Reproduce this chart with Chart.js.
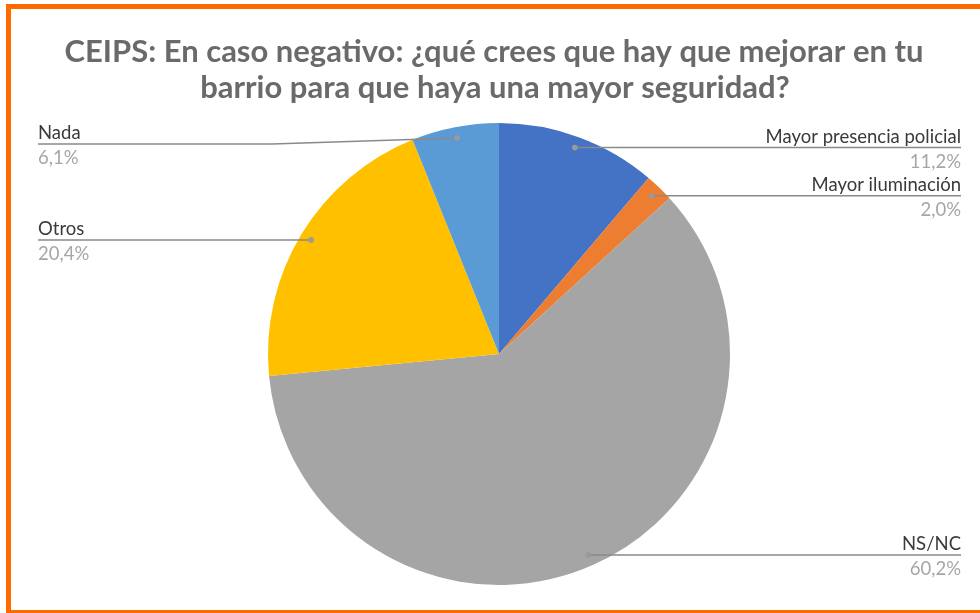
<!DOCTYPE html>
<html>
<head>
<meta charset="utf-8">
<script src="https://cdn.jsdelivr.net/npm/chart.js@4"></script>
<style>
  html, body { margin: 0; padding: 0; background: #fff; }
  #wrap { width: 980px; height: 613px; }
</style>
</head>
<body>
<div id="wrap"><canvas id="pie" width="980" height="613"></canvas></div>
<script>
// Chart data
const titleLines = ['CEIPS: En caso negativo: ¿qué crees que hay que mejorar en tu',
                    'barrio para que haya una mayor seguridad?'];
const labels = ['Mayor presencia policial', 'Mayor iluminación', 'NS/NC', 'Otros', 'Nada'];
const values = [11.2, 2.0, 60.2, 20.4, 6.1];
const colors = ['#4472C4', '#ED7D31', '#A5A5A5', '#FFC000', '#5B9BD5'];

// orange frame + white background
const framePlugin = {
  id: 'frame',
  beforeDraw(chart) {
    const ctx = chart.ctx;
    ctx.save();
    ctx.fillStyle = '#fff';
    ctx.fillRect(0, 0, chart.width, chart.height);
    ctx.fillStyle = '#FF6A00';
    ctx.fillRect(6, 4, chart.width - 6, 5);   // top
    ctx.fillRect(6, 4, 5, chart.height - 4);  // left
    ctx.fillRect(6, 610, chart.width - 6, 3); // bottom
    ctx.restore();
  }
};

// title drawn by hand so both lines sit where the original has them
const titlePlugin = {
  id: 'bigTitle',
  afterDraw(chart) {
    const ctx = chart.ctx;
    ctx.save();
    ctx.font = 'bold 31px Lato';
    ctx.fillStyle = '#6a6a6a';
    ctx.textAlign = 'center';
    ctx.textBaseline = 'alphabetic';
    ctx.fillText(titleLines[0], 494, 62);
    ctx.fillText(titleLines[1], 495, 98);
    ctx.restore();
  }
};

// labels with leader lines, like the Excel callouts
const calloutPlugin = {
  id: 'callouts',
  afterDatasetsDraw(chart) {
    const ctx = chart.ctx;
    const arcs = chart.getDatasetMeta(0).data;
    const leftX = 38, rightX = 961, minY = 144;
    ctx.save();
    arcs.forEach((arc, i) => {
      const mid = (arc.startAngle + arc.endAngle) / 2;
      const r = arc.outerRadius * 0.952;
      const dx = arc.x + Math.cos(mid) * r;
      const dy = arc.y + Math.sin(mid) * r;
      const right = Math.cos(mid) >= 0;
      const ly = Math.max(dy, minY);
      const endX = right ? rightX : leftX;

      ctx.strokeStyle = '#8a8a8a';
      ctx.lineWidth = 1.5;
      ctx.beginPath();
      ctx.moveTo(dx, dy);
      if (ly !== dy) {
        const elbowX = right ? dx + 185 : dx - 185;
        ctx.lineTo(elbowX, ly);
      }
      ctx.lineTo(endX, ly);
      ctx.stroke();

      ctx.fillStyle = '#9a9a9a';
      ctx.beginPath();
      ctx.arc(dx, dy, 2.8, 0, Math.PI * 2);
      ctx.fill();

      ctx.textAlign = right ? 'right' : 'left';
      ctx.textBaseline = 'alphabetic';
      ctx.font = '18.5px Lato';
      ctx.fillStyle = '#3a3a3a';
      ctx.fillText(labels[i], endX, ly - 5);
      ctx.fillStyle = '#a6a6a6';
      ctx.fillText(values[i].toFixed(1).replace('.', ',') + '%', endX, ly + 20);
    });
    ctx.restore();
  }
};

const chart = new Chart(document.getElementById('pie').getContext('2d'), {
  type: 'pie',
  data: {
    labels: labels,
    datasets: [{
      data: values,
      backgroundColor: colors,
      borderWidth: 0
    }]
  },
  options: {
    responsive: false,
    animation: false,
    layout: { padding: { top: 123, bottom: 28, left: 18, right: 0 } },
    plugins: {
      legend: { display: false },
      tooltip: { enabled: false },
      title: { display: false }
    }
  },
  plugins: [framePlugin, calloutPlugin, titlePlugin]
});
</script>
</body>
</html>
